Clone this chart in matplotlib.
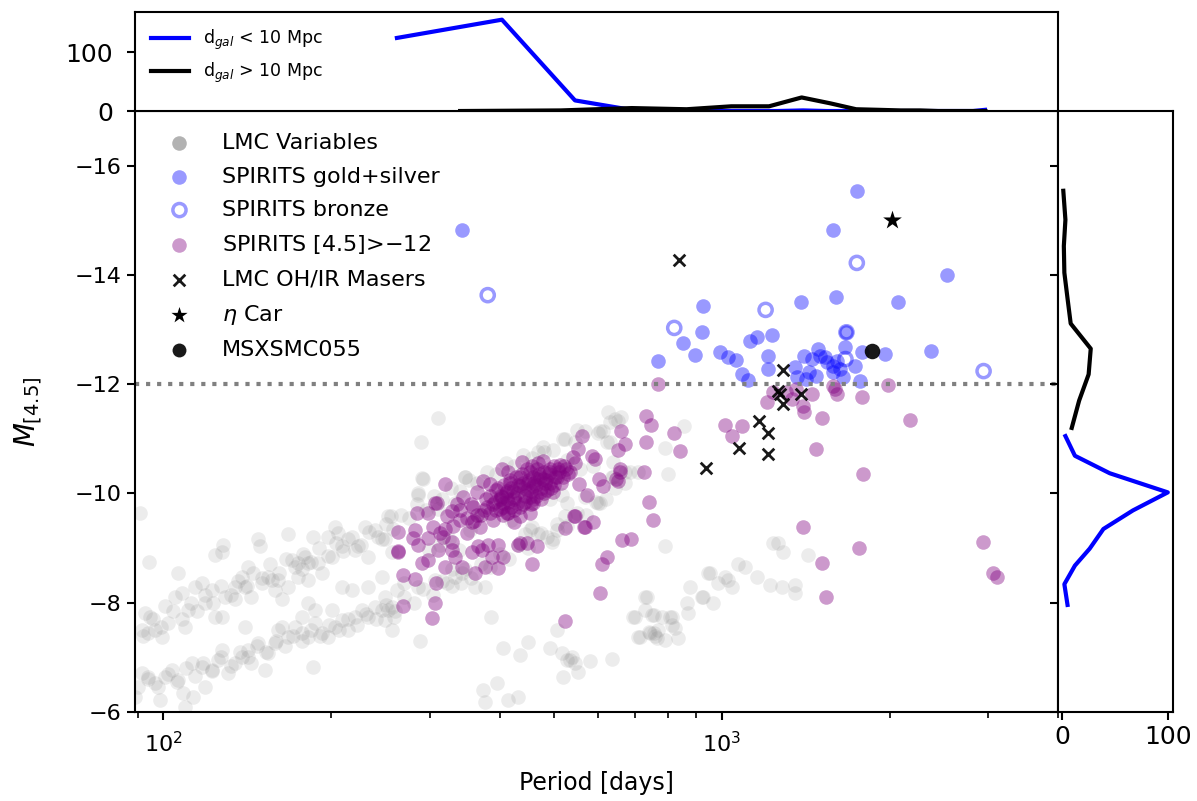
import matplotlib
matplotlib.use("Agg")
from matplotlib import pyplot as plt

# LMC long period variables (grey cloud)
lmc_period = [91.0, 94.4, 92.8, 94.7, 91.7, 94.0, 96.8, 99.6, 102.1, 100.8, 106.4, 105.1, 108.1, 110.8, 109.5,
              114.1, 117.4, 122.2, 118.9, 123.9, 127.5, 129.1, 123.9, 128.0, 127.5, 134.5, 138.4, 140.0, 134.5,
              141.9, 143.6, 150.4, 147.9, 149.1, 154.1, 156.6, 158.5, 163.1, 160.5, 167.2, 167.2, 170.0, 174.2,
              177.2, 179.3, 181.5, 185.3, 189.2, 192.3, 197.1, 200.3, 202.8, 208.6, 213.8, 220.2, 229.5, 232.3,
              239.0, 245.9, 223.0, 205.2, 181.5, 174.2,
              89.1, 91.7, 94.0, 98.8, 96.8, 100.8, 103.8, 106.4, 108.6, 109.5, 113.1, 112.7, 117.4, 118.9, 122.2,
              125.4, 127.5, 130.7, 134.5, 138.4, 141.9, 140.0, 143.6, 147.9, 152.3, 154.1, 158.5, 160.5, 163.1,
              167.2, 172.1, 177.2, 177.2, 181.5, 185.3, 186.8, 192.3, 197.1, 202.8, 208.6, 213.8, 220.2, 226.6,
              232.3, 239.0, 245.9, 208.6, 217.3, 232.3, 245.9, 200.3, 186.8, 181.5,
              252.2, 249.1, 256.3, 285.3, 291.3, 346.3, 310.0, 333.5, 249.1, 256.3, 262.6, 270.2, 285.3, 306.1,
              322.7, 333.5, 346.3, 362.1, 377.0, 328.4, 341.8, 252.2, 249.1, 259.3, 256.3, 457.8, 444.9, 497.1,
              507.4, 524.2, 569.3, 600.4, 636.2, 670.5, 707.9, 800.9, 386.9, 287.6, 406.3, 435.8, 450.4, 493.1,
              507.4, 518.2, 528.9, 553.1, 520.4, 580.9, 636.2, 374.0, 396.5, 377.0, 414.9, 432.3, 791.1, 728.6,
              699.2, 749.7, 781.4, 814.0, 740.2, 707.9, 791.1, 834.5, 814.0, 869.6, 876.7, 920.9, 943.9, 983.8,
              1012, 1041, 963.5, 866.1,
              625.8, 651.9, 612.3, 623.4, 638.8, 605.1, 685.4, 854.7, 791.1, 1233, 1259, 1285, 1425, 1068, 1099,
              1155, 1218, 1280, 1353, 1353, 951.9, 1025, 924.8, 734.5, 693.6, 728.6, 756.5, 807.4, 823.7, 713.8,
              743.9,
              309.8, 289.9, 291.1, 285.3, 347.6, 255.4, 524.2, 644.1, 605.1, 631.0, 528.9, 499.1, 474.7, 454.1,
              468.0, 479.7, 588.5, 557.7, 551.0, 638.8, 528.9, 401.4, 436.0, 474.7, 418.5, 369.6, 354.8, 325.3,
              312.3, 299.6, 338.6, 493.1, 518.2,
              92, 96, 99, 104, 108, 112, 115, 119, 123, 127, 132, 136, 141, 145, 150, 155, 161, 166, 172, 178, 184,
              190, 197, 204, 210, 218, 226, 234, 242, 250, 258, 266, 275, 285, 295, 305, 316, 328, 340, 352, 365,
              380, 395, 410, 425, 440, 458, 478, 498, 520, 545, 570, 600, 630, 660,
              90, 94, 98, 102, 106, 110, 114, 118, 122, 127, 132, 137, 142, 147, 153, 159, 165, 171, 177, 184, 191,
              198, 206, 214, 222, 231, 240, 250, 260, 270, 281, 292, 304, 316, 329, 342, 356, 370, 385, 400, 416,
              432, 450, 468, 487, 507, 528, 550, 572, 595, 620, 645, 670,
              535, 540, 545, 760, 765, 755, 770]
lmc_mag = [-9.65, -8.75, -7.82, -7.74, -7.50, -7.45, -7.50, -7.38, -7.63, -7.94, -8.55, -8.11, -8.18, -7.87, -7.56,
           -8.29, -8.37, -8.24, -8.00, -7.74, -7.74, -8.11, -8.88, -9.06, -8.92, -8.29, -8.48, -8.29, -8.06,
           -8.66, -8.11, -8.37, -9.16, -9.03, -8.48, -8.42, -8.24, -8.06, -8.42, -8.29, -9.25, -8.79, -8.73,
           -8.61, -8.84, -8.42, -9.21, -8.73, -8.55, -9.21, -8.84, -9.39, -9.03, -9.16, -8.97, -9.39, -8.84,
           -9.34, -9.16, -9.03, -9.28, -8.73, -8.48,
           -6.28, -6.72, -6.64, -6.22, -6.53, -6.64, -6.77, -6.59, -6.35, -6.09, -6.28, -6.90, -6.83, -6.46, -6.77,
           -6.95, -7.14, -6.72, -6.90, -7.01, -7.14, -7.56, -6.90, -7.27, -6.77, -7.08, -7.27, -7.50, -7.56,
           -7.38, -7.56, -7.45, -7.74, -7.38, -6.83, -7.63, -7.45, -7.38, -7.56, -7.69, -7.50, -7.74, -7.87,
           -7.74, -7.93, -7.87, -8.29, -8.24, -8.29, -8.48, -7.87, -7.87, -8.00,
           -9.58, -9.16, -8.92, -9.98, -10.26, -10.31, -9.71, -9.83, -8.11, -7.93, -8.24, -8.37, -8.29, -8.42,
           -8.37, -8.48, -8.61, -8.28, -8.29, -8.61, -8.37, -7.87, -7.69, -7.74, -7.50, -9.39, -9.25, -9.12,
           -9.34, -9.58, -9.94, -9.83, -10.31, -10.39, -10.39, -10.35, -7.74, -7.30, -7.17, -7.05, -7.28, -7.17,
           -7.50, -7.08, -6.95, -6.73, -6.64, -6.94, -6.97, -6.40, -6.53, -6.18, -6.22, -6.28, -9.03, -8.11,
           -7.74, -7.78, -7.74, -7.74, -7.47, -7.38, -7.32, -7.36, -7.60, -7.82, -8.28, -8.11, -8.55, -8.37,
           -8.48, -8.29, -8.00, -8.00,
           -11.49, -11.32, -11.14, -10.95, -10.57, -9.83, -10.39, -11.23, -10.84, -9.10, -9.10, -8.92, -8.88, -8.70, -8.66,
           -8.48, -8.33, -8.29, -8.33, -8.18, -8.55, -8.42, -8.11, -8.11, -7.74, -7.87, -7.78, -7.74, -7.54, -7.38,
           -7.45,
           -11.38, -10.94, -10.28, -10.00, -10.31, -9.58, -10.99, -11.36, -11.14, -10.94, -9.83, -9.16, -9.28, -9.34,
           -10.75, -10.75, -10.50, -10.44, -11.17, -10.31, -10.62, -9.89, -10.07, -10.26, -9.52, -9.61, -9.34, -9.16,
           -9.06, -8.97, -8.97, -9.89, -9.98,
           -7.4, -7.7, -7.55, -7.85, -7.7, -8.0, -7.85, -8.15, -8.0, -8.3, -8.15, -8.4, -8.3, -8.55, -8.45, -8.7,
           -8.55, -8.8, -8.65, -8.9, -8.75, -9.0, -8.85, -9.1, -8.95, -9.2, -9.05, -9.3, -9.2, -9.45, -9.35, -9.6,
           -9.55, -9.8, -9.7, -9.95, -9.9, -10.1, -10.05, -10.25, -10.2, -10.4, -10.35, -10.55, -10.5, -10.7,
           -10.65, -10.85, -10.8, -11.0, -10.95, -11.15, -11.1, -11.3, -11.4,
           -6.45, -6.6, -6.45, -6.7, -6.55, -6.8, -6.65, -6.9, -6.75, -7.0, -6.85, -7.1, -7.0, -7.2, -7.1, -7.3,
           -7.2, -7.4, -7.3, -7.5, -7.4, -7.6, -7.5, -7.7, -7.6, -7.8, -7.7, -7.95, -7.85, -8.1, -8.0, -8.25,
           -8.15, -8.4, -8.3, -8.55, -8.45, -8.7, -8.65, -8.9, -8.8, -9.05, -9.0, -9.25, -9.2, -9.45, -9.4, -9.65,
           -9.6, -9.85, -9.9, -10.1, -10.2,
           -6.95, -7.0, -6.9, -7.4, -7.35, -7.45, -7.5]

# SPIRITS gold + silver
gs_period = [343, 1744, 1580, 2527, 925, 1384, 2064, 1600, 923, 852, 768, 895, 992, 1025, 1059, 1122, 1158, 1229,
             1208, 1212, 1086, 1112, 1957, 2365, 1780, 1661, 1766, 1733, 1489, 1406, 1352, 1364, 1452, 1498,
             1543, 1584, 1630, 1435, 1477, 1584, 1651, 1414, 1530, 1610, 1672]
gs_mag = [-14.83, -15.54, -14.83, -14.00, -13.43, -13.50, -13.50, -13.60, -12.95, -12.75, -12.42, -12.53, -12.59,
          -12.50, -12.44, -12.79, -12.86, -12.90, -12.51, -12.28, -12.18, -12.07, -12.55, -12.61, -12.59, -12.68,
          -12.06, -12.33, -12.64, -12.51, -12.31, -12.13, -12.46, -12.51, -12.40, -12.33, -12.28, -12.22, -12.15,
          -12.22, -12.13, -12.09, -12.50, -12.42, -12.95]

# SPIRITS bronze
br_period = [381, 822, 1198, 1745, 1672, 1665, 2943]
br_mag = [-13.63, -13.03, -13.36, -14.22, -12.95, -12.46, -12.24]

# SPIRITS fainter than -12
fa_period = [768, 1983, 1780, 2169, 1509, 1203, 1234, 1338, 1395, 1406, 1452, 1584, 1610, 1303, 1358, 1012, 1041,
             1087, 822, 731, 748, 660, 1476, 1792, 1400, 1760, 1509, 1537, 2937, 3059, 3112, 842, 651, 670, 731,
             727, 656, 647, 612, 740, 752, 662, 689, 622, 610, 605, 524, 1593,
             524, 543, 567, 588, 466, 457, 303, 306, 269, 282, 269, 308, 263, 263, 282, 290, 361, 377, 397, 320,
             333, 343, 310, 298, 357, 372, 387, 406, 431, 397, 381, 366, 329, 286, 280, 298, 317, 329, 285, 298,
             309, 320, 329,
             561, 553, 541, 592, 585, 656, 651, 604, 574, 556, 546, 569, 439, 404, 414, 374, 384, 513, 493, 527,
             307, 336, 359, 357, 340, 322, 384, 435, 459, 486, 466, 448, 424, 406, 395, 418, 435, 453, 478, 493,
             506, 413, 389, 369, 350, 379, 364, 344, 430, 453, 472, 498, 401, 424, 453, 404, 435, 413, 459, 466,
             448, 435, 313, 304, 263,
             390, 400, 410, 420, 430, 440, 450, 460, 470, 480, 490, 500, 510, 395, 405, 415, 425, 445, 455, 465,
             475, 485, 375, 385, 420, 440, 460, 480, 500, 520, 535, 545, 365, 350, 340,
             380, 392, 402, 412, 422, 432, 442, 452, 462, 472, 482, 492, 502, 512, 522, 398, 408, 418, 428, 438,
             448, 458, 468, 478, 405, 415, 425, 435, 445, 455, 465, 475, 495, 515, 530, 360, 370, 355, 330, 320]
fa_mag = [-12.00, -11.98, -11.76, -11.34, -11.38, -11.67, -11.85, -11.72, -11.60, -11.49, -11.82, -11.96, -11.82,
          -11.85, -11.91, -11.25, -11.06, -11.23, -11.10, -11.41, -11.25, -11.14, -10.81, -10.35, -9.39, -9.01,
          -8.73, -8.11, -9.12, -8.55, -8.48, -10.77, -10.79, -10.90, -10.94, -10.39, -10.40, -10.26, -10.13,
          -9.85, -9.52, -9.14, -9.16, -8.84, -8.70, -8.18, -7.67, -11.91,
          -9.36, -9.58, -9.39, -9.47, -9.03, -8.70, -7.72, -8.00, -7.94, -8.44, -8.50, -8.37, -8.92, -9.30, -9.34,
          -8.72, -8.55, -8.66, -8.64, -8.66, -8.83, -8.66, -8.97, -8.79, -8.92, -8.97, -8.84, -8.83, -9.06, -9.06,
          -9.06, -9.03, -8.97, -9.06, -9.19, -9.19, -9.21, -9.12, -9.65, -9.65, -9.83, -10.17, -9.67,
          -11.06, -10.81, -10.66, -10.64, -10.68, -10.44, -10.22, -10.26, -9.98, -10.17, -9.58, -9.39, -10.57,
          -10.44, -10.39, -10.22, -10.17, -10.53, -10.44, -10.44, -9.83, -9.80, -9.76, -9.47, -9.52, -9.58, -9.65,
          -9.58, -9.83, -10.07, -10.26, -10.07, -9.94, -9.83, -10.07, -10.20, -10.31, -10.39, -10.26, -10.20,
          -10.31, -9.65, -9.52, -9.39, -9.28, -9.89, -10.02, -9.94, -9.83, -9.94, -10.02, -10.02, -9.71, -9.47,
          -9.65, -9.94, -10.13, -10.04, -10.13, -10.44, -9.10, -9.10, -9.28, -9.39, -8.94,
          -9.8, -9.9, -10.0, -10.1, -10.0, -10.2, -10.2, -10.3, -10.35, -10.4, -10.35, -10.5, -10.45, -9.7, -9.75,
          -9.85, -9.9, -9.95, -10.05, -10.15, -10.1, -10.25, -9.7, -9.95, -9.75, -9.8, -9.9, -10.0, -10.15, -10.3,
          -10.4, -10.55, -9.6, -9.55, -9.7,
          -9.75, -9.85, -9.95, -9.9, -10.05, -10.15, -10.1, -10.25, -10.2, -10.3, -10.2, -10.4, -10.3, -10.4, -10.5,
          -10.1, -10.15, -10.25, -10.3, -10.35, -10.45, -10.5, -10.55, -10.6, -9.6, -9.65, -9.7, -9.75, -9.85,
          -9.8, -9.95, -9.9, -10.1, -10.2, -10.35, -9.5, -9.6, -9.8, -9.4, -9.35]

# LMC OH/IR masers
maser_period = [838, 1286, 1262, 1270, 1384, 1286, 1164, 1212, 1074, 1212, 936]
maser_mag = [-14.28, -12.26, -11.87, -11.82, -11.82, -11.63, -11.32, -11.10, -10.83, -10.72, -10.46]

etacar_period = [2015]
etacar_mag = [-15.01]
msx_period = [1854]
msx_mag = [-12.61]

# histograms (top: period, right: magnitude)
near_period = [262, 404, 546, 688, 830, 972, 1114, 1256, 1398, 1540, 1682, 1824, 1966, 2108, 2250, 2392, 2534,
               2676, 2818, 2960]
near_pcount = [124, 155, 18, 2, 1, 0, 0, 0, 1, 0, 0, 0, 0, 0, 0, 0, 0, 0, 0, 2]
far_period = [340, 515, 690, 865, 1040, 1215, 1390, 1565, 1740, 1915, 2090, 2265, 2440, 2615, 2790, 2965]
far_pcount = [0, 1, 5, 3, 8, 8, 23, 13, 3, 2, 1, 1, 0, 0, 0, 0]

near_mag = [-11.05, -10.69, -10.37, -10.02, -9.69, -9.35, -8.99, -8.68, -8.34, -7.96]
near_mcount = [3, 12, 45, 100, 67, 39, 26, 12, 2, 5]
far_mag = [-15.54, -15.01, -14.53, -14.04, -13.57, -13.11, -12.65, -12.18, -11.70, -11.20]
far_mcount = [1, 3, 1.5, 2, 5, 8, 27, 25, 16, 9]

fig = plt.figure(figsize=(11.97, 8.01), dpi=100)
ax = fig.add_axes([0.1128, 0.1111, 0.7711, 0.7503])
axt = fig.add_axes([0.1128, 0.8614, 0.7711, 0.1236], sharex=ax)
axr = fig.add_axes([0.8839, 0.1111, 0.0961, 0.7503], sharey=ax)

ms = 110
ax.scatter(lmc_period, lmc_mag, s=ms, color='gray', alpha=0.15, lw=0, label='LMC Variables')
ax.scatter(gs_period, gs_mag, s=ms, color='blue', alpha=0.4, lw=0, label='SPIRITS gold+silver')
ax.scatter(br_period, br_mag, s=90, facecolor='none', edgecolor='blue', alpha=0.4, lw=2.5,
           label='SPIRITS bronze')
ax.scatter(fa_period, fa_mag, s=ms, color='purple', alpha=0.4, lw=0, label='SPIRITS [4.5]>$-$12')
ax.scatter(maser_period, maser_mag, s=70, marker='x', color='k', alpha=0.9, lw=2, label='LMC OH/IR Masers')
ax.scatter(etacar_period, etacar_mag, s=200, marker='*', color='k', lw=0, label=r'$\eta$ Car')
ax.scatter(msx_period, msx_mag, s=125, color='k', alpha=0.9, lw=0, label='MSXSMC055')
ax.axhline(-12, color='gray', ls=':', lw=3)

ax.set_xscale('log')
ax.set_xlim(89, 4000)
ax.set_ylim(-6, -17)
ax.set_yticks([-6, -8, -10, -12, -14, -16])
ax.set_xlabel('Period [days]', fontsize=17, labelpad=10)
ax.set_ylabel('$M_{[4.5]}$', fontsize=20, labelpad=22)
ax.tick_params(labelsize=16, width=1.5, length=6)
ax.tick_params(axis='x', pad=8)
ax.tick_params(which='minor', width=1.2, length=4)
for s in ax.spines.values():
    s.set_linewidth(1.5)

leg = ax.legend(loc='upper left', frameon=False, fontsize=16, scatterpoints=1,
                handletextpad=0.9, labelspacing=0.6, borderaxespad=0.6)
lh = leg.legend_handles
lh[0].set_alpha(0.6)
lh[5].set_sizes([150])
lh[6].set_sizes([100])

# top histogram
axt.plot(near_period, near_pcount, color='blue', lw=3, label='d$_{gal}$ < 10 Mpc')
axt.plot(far_period, far_pcount, color='k', lw=3, label='d$_{gal}$ > 10 Mpc')
axt.set_ylim(0, 168)
axt.set_yticks([0, 100])
axt.tick_params(axis='x', which='both', bottom=False, labelbottom=False)
axt.tick_params(axis='y', labelsize=18, width=1.5, length=6, pad=10)
axt.legend(loc='upper left', frameon=False, fontsize=12.5, handlelength=2.2)
for s in axt.spines.values():
    s.set_linewidth(1.5)

# right histogram
axr.plot(near_mcount, near_mag, color='blue', lw=3)
axr.plot(far_mcount, far_mag, color='k', lw=3)
axr.set_xlim(-4, 105)
axr.set_xticks([0, 100])
axr.tick_params(axis='y', labelleft=False, width=1.5, length=6)
axr.tick_params(axis='x', labelsize=18, width=1.5, length=6)
for s in axr.spines.values():
    s.set_linewidth(1.5)

fig.savefig('out.png', dpi=100)
